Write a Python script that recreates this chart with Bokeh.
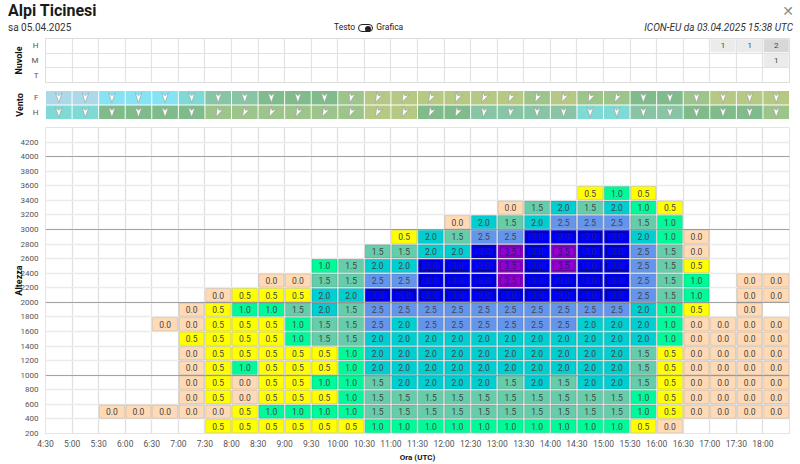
from bokeh.plotting import figure
from bokeh.models import Range1d, FixedTicker, ColumnDataSource, Grid, Div
from bokeh.layouts import column
from bokeh.embed import file_html
from bokeh.resources import INLINE
from bokeh.core.properties import value
import math

FONT = "Roboto"
N = None

# 30-minute forecast slots (UTC), left edge of each column
times = ["4:30", "5:00", "5:30", "6:00", "6:30", "7:00", "7:30", "8:00", "8:30", "9:00",
         "9:30", "10:00", "10:30", "11:00", "11:30", "12:00", "12:30", "13:00", "13:30",
         "14:00", "14:30", "15:00", "15:30", "16:00", "16:30", "17:00", "17:30", "18:00"]

alt_ticks = [200, 400, 600, 800, 1000, 1200, 1400, 1600, 1800, 2000, 2200,
             2400, 2600, 2800, 3000, 3200, 3400, 3600, 3800, 4000, 4200]

# thermal climb (m/s) per 200 m layer, named by the layer's lower bound
climb_0200 = [N, N, N, N, N, N, 0.5, 0.5, 0.5, 0.5, 0.5, 0.5, 1.0, 1.0, 1.0, 1.0, 1.0, 1.0, 1.0, 1.0, 1.0, 1.0, 0.5, 0.0, N, N, N, N]
climb_0400 = [N, N, 0.0, 0.0, 0.0, 0.0, 0.0, 0.5, 1.0, 1.0, 1.0, 1.0, 1.5, 1.5, 1.5, 1.5, 1.5, 1.5, 1.5, 1.5, 1.5, 1.5, 1.0, 0.5, 0.0, 0.0, 0.0, 0.0]
climb_0600 = [N, N, N, N, N, 0.0, 0.5, 0.0, 0.5, 0.5, 0.5, 1.0, 1.5, 1.5, 1.5, 1.5, 1.5, 1.5, 1.5, 1.5, 1.5, 1.5, 1.0, 0.5, 0.0, 0.0, 0.0, 0.0]
climb_0800 = [N, N, N, N, N, 0.0, 0.5, 0.0, 0.5, 0.5, 1.0, 1.0, 1.5, 2.0, 2.0, 2.0, 2.0, 1.5, 2.0, 1.5, 2.0, 2.0, 1.5, 0.5, 0.0, 0.0, 0.0, 0.0]
climb_1000 = [N, N, N, N, N, 0.0, 0.5, 1.0, 0.5, 0.5, 0.5, 1.0, 2.0, 2.0, 2.0, 2.0, 2.0, 2.0, 2.0, 2.0, 2.0, 2.0, 1.5, 0.5, 0.0, 0.0, 0.0, 0.0]
climb_1200 = [N, N, N, N, N, 0.0, 0.5, 0.5, 0.5, 0.5, 0.5, 1.0, 2.0, 2.0, 2.0, 2.0, 2.0, 2.0, 2.0, 2.0, 2.0, 2.0, 1.5, 0.5, 0.0, 0.0, 0.0, 0.0]
climb_1400 = [N, N, N, N, N, 0.5, 0.5, 0.5, 0.5, 1.0, 1.5, 1.5, 2.0, 2.0, 2.0, 2.0, 2.0, 2.0, 2.0, 2.0, 2.0, 2.0, 2.0, 1.0, 0.0, 0.0, 0.0, 0.0]
climb_1600 = [N, N, N, N, 0.0, 0.0, 0.5, 0.5, 0.5, 1.0, 1.5, 1.5, 2.5, 2.0, 2.5, 2.5, 2.5, 2.5, 2.5, 2.5, 2.0, 2.0, 2.0, 1.0, 0.0, 0.0, 0.0, 0.0]
climb_1800 = [N, N, N, N, N, 0.0, 0.5, 1.0, 1.0, 1.5, 2.0, 1.5, 2.5, 2.5, 2.5, 2.5, 2.5, 2.5, 2.5, 2.5, 2.5, 2.5, 2.0, 1.0, 0.5, N, 0.0, N]
climb_2000 = [N, N, N, N, N, N, 0.0, 0.5, 0.5, 0.5, 2.0, 2.0, 3.0, 3.0, 3.0, 3.0, 3.0, 3.0, 3.0, 3.0, 3.0, 3.0, 2.5, 1.5, 1.0, N, 0.0, 0.0]
climb_2200 = [N, N, N, N, N, N, N, N, 0.0, 0.0, 1.5, 1.5, 2.5, 2.5, 3.0, 3.0, 3.0, 3.5, 3.0, 3.0, 3.0, 3.0, 2.5, 1.5, 1.0, N, 0.0, 0.0]
climb_2400 = [N, N, N, N, N, N, N, N, N, N, 1.0, 1.5, 2.0, 2.0, 3.0, 3.0, 3.0, 3.5, 3.0, 3.5, 3.0, 3.0, 2.5, 1.5, 0.5, N, N, N]
climb_2600 = [N, N, N, N, N, N, N, N, N, N, N, N, 1.5, 1.5, 2.0, 2.0, 3.0, 3.5, 3.0, 3.5, 3.0, 3.0, 2.5, 1.5, 0.0, N, N, N]
climb_2800 = [N, N, N, N, N, N, N, N, N, N, N, N, N, 0.5, 2.0, 1.5, 2.5, 2.5, 3.0, 3.0, 3.0, 3.0, 2.0, 1.0, 0.0, N, N, N]
climb_3000 = [N, N, N, N, N, N, N, N, N, N, N, N, N, N, N, 0.0, 2.0, 1.5, 2.0, 2.5, 2.5, 2.5, 1.5, 1.0, N, N, N, N]
climb_3200 = [N, N, N, N, N, N, N, N, N, N, N, N, N, N, N, N, N, 0.0, 1.5, 2.0, 1.5, 2.0, 1.0, 0.5, N, N, N, N]
climb_3400 = [N, N, N, N, N, N, N, N, N, N, N, N, N, N, N, N, N, N, N, N, 0.5, 1.0, 0.5, N, N, N, N, N]

layers = [(200, climb_0200), (400, climb_0400), (600, climb_0600), (800, climb_0800),
          (1000, climb_1000), (1200, climb_1200), (1400, climb_1400), (1600, climb_1600),
          (1800, climb_1800), (2000, climb_2000), (2200, climb_2200), (2400, climb_2400),
          (2600, climb_2600), (2800, climb_2800), (3000, climb_3000), (3200, climb_3200),
          (3400, climb_3400)]

# cloud cover (octas) for high / mid / low levels
cloud_high = [N, N, N, N, N, N, N, N, N, N, N, N, N, N, N, N, N, N, N, N, N, N, N, N, N, 1, 1, 2]
cloud_mid = [N, N, N, N, N, N, N, N, N, N, N, N, N, N, N, N, N, N, N, N, N, N, N, N, N, N, N, 1]
cloud_low = [N, N, N, N, N, N, N, N, N, N, N, N, N, N, N, N, N, N, N, N, N, N, N, N, N, N, N, N]

# wind strength class and direction (deg, from) in the free atmosphere (F) and at height (H)
wind_f_class = [0, 0, 1, 1, 1, 2, 3, 3, 4, 4, 4, 5, 6, 6, 6, 6, 6, 6, 5, 6, 5, 5, 4, 4, 5, 6, 6, 6]
wind_h_class = [2, 2, 4, 4, 4, 4, 5, 5, 5, 5, 5, 5, 6, 6, 4, 4, 3, 3, 3, 3, 2, 2, 3, 3, 4, 4, 4, 5]
wind_f_dir = [0, 0, 0, 0, 0, 0, 0, 0, 0, 0, 0, 12, 25, 25, 25, 25, 25, 25, 25, 25, 25, 25, 0, 0, 0, 0, 0, 0]
wind_h_dir = [0, 0, 0, 0, 0, 0, 25, 25, 25, 25, 25, 25, 25, 25, 25, 25, 8, 8, 0, 0, 0, 0, 0, 0, 0, 0, 0, 0]

climb_colors = {0.0: "#FFDAB4", 0.5: "#FFFF00", 1.0: "#00FA9A", 1.5: "#66CDAA",
                2.0: "#00CED1", 2.5: "#6495ED", 3.0: "#0000FF", 3.5: "#9400D3"}
wind_palette = ["#abd9e9", "#85e3f3", "#7fd9d5", "#88c5a5", "#80bb8c", "#9dc48b", "#b5c985"]

PLOT_W = 800
BORDER_L, BORDER_R = 45, 11


def to_hours(t):
    h, m = t.split(":")
    return int(h) + int(m) / 60.0


slot = [to_hours(t) for t in times]
step = slot[1] - slot[0]
x_start, x_end = slot[0], slot[-1] + step
centers = [s + step / 2 for s in slot]


def base_fig(height, y_range, bottom):
    p = figure(width=PLOT_W, height=height, x_range=Range1d(x_start, x_end), y_range=y_range,
               output_backend="svg", toolbar_location=None, title=None,
               min_border_left=BORDER_L, min_border_right=BORDER_R, min_border_top=0,
               min_border_bottom=bottom, background_fill_color="white",
               border_fill_color="white")
    p.outline_line_color = None
    return p


def style_yaxis(p, ticks, labels, name, label_standoff, axis_standoff):
    ax = p.yaxis[0]
    ax.ticker = FixedTicker(ticks=ticks)
    ax.major_label_overrides = labels
    ax.axis_line_color = None
    ax.major_tick_line_color = None
    ax.minor_tick_line_color = None
    ax.major_tick_out = 0
    ax.major_tick_in = 0
    ax.major_label_text_font = FONT
    ax.major_label_text_font_size = "8px"
    ax.major_label_text_color = "#555555"
    ax.major_label_standoff = label_standoff
    ax.axis_label = name
    ax.axis_label_text_font = FONT
    ax.axis_label_text_font_style = "bold"
    ax.axis_label_text_font_size = "9px"
    ax.axis_label_text_color = "#111111"
    ax.axis_label_standoff = axis_standoff


# ---------------- header ----------------
header_html = """
<div style="position:relative;width:800px;height:38px;overflow:hidden;font-family:Roboto,sans-serif;color:#222;">
  <div style="position:absolute;left:8px;top:3px;font-size:16px;font-weight:bold;line-height:16px;color:#1a1a1a;">Alpi Ticinesi</div>
  <div style="position:absolute;left:8px;top:22px;font-size:10px;line-height:11px;color:#333;">sa 05.04.2025</div>
  <div style="position:absolute;left:334px;top:21px;font-size:8.5px;line-height:12px;color:#222;white-space:nowrap;">
    Testo
    <span style="display:inline-block;vertical-align:middle;width:15px;height:8px;border:1.4px solid #222;border-radius:6px;position:relative;margin:0 1px;">
      <span style="position:absolute;right:1px;top:1px;width:6px;height:6px;border-radius:3px;background:#222;"></span>
    </span>
    Grafica
  </div>
  <div style="position:absolute;right:7px;top:22px;font-size:10px;line-height:11px;font-style:italic;color:#333;white-space:nowrap;">ICON-EU da 03.04.2025 15:38 UTC</div>
  <div style="position:absolute;right:6px;top:4px;font-size:14px;line-height:14px;color:#8c8c8c;font-family:'DejaVu Sans';">&#x2715;</div>
</div>
"""
header = Div(text=header_html, width=800, height=38, margin=(0, 0, 0, 0))

# ---------------- clouds panel ----------------
pc = base_fig(52, Range1d(0, 3), 8)
pc.xaxis.visible = False
pc.outline_line_color = "#dddddd"
pc.xgrid.ticker = FixedTicker(ticks=slot + [x_end])
pc.xgrid.grid_line_color = "#e2e2e2"
pc.xgrid.grid_line_width = 1.2
pc.ygrid.ticker = FixedTicker(ticks=[0, 1, 2, 3])
pc.ygrid.grid_line_color = "#e2e2e2"
pc.ygrid.grid_line_width = 1.2
style_yaxis(pc, [0.5, 1.5, 2.5], {0.5: "T", 1.5: "M", 2.5: "H"}, "Nuvole", 7, 5)

cx, cy, ctext, cfill = [], [], [], []
for row_y, series in ((2.5, cloud_high), (1.5, cloud_mid), (0.5, cloud_low)):
    for c, v in zip(centers, series):
        if v is None:
            continue
        cx.append(c)
        cy.append(row_y)
        ctext.append(str(v))
        cfill.append("#d7d7d7" if v >= 2 else "#ebebeb")
csrc = ColumnDataSource(dict(x=cx, y=cy, t=ctext, f=cfill))
pc.rect(x="x", y="y", width=25, height=13, width_units="screen", height_units="screen",
        source=csrc, fill_color="f", line_color=None)
pc.text(x="x", y="y", text="t", source=csrc, text_align="center", text_baseline="middle",
        text_font=value(FONT), text_font_size="8px", text_color="#444444")

# ---------------- wind panel ----------------
WIND_H = 37
WIND_FRAME_H = WIND_H - 8
pw = base_fig(WIND_H, Range1d(0, 2), 8)
pw.xaxis.visible = False
pw.xgrid.visible = False
pw.ygrid.visible = False
style_yaxis(pw, [0.5, 1.5], {0.5: "H", 1.5: "F"}, "Vento", 7, 5)

# pixel -> data conversion factors for the arrow outlines
px_x = (x_end - x_start) / (PLOT_W - BORDER_L - BORDER_R)
px_y = 2.0 / WIND_FRAME_H

wx, wy, wfill, axs, ays = [], [], [], [], []
for row_y, cls, dirs in ((1.5, wind_f_class, wind_f_dir), (0.5, wind_h_class, wind_h_dir)):
    for c, k, d in zip(centers, cls, dirs):
        wx.append(c)
        wy.append(row_y)
        wfill.append(wind_palette[k])
        # arrow points downwind: bearing = from-direction + 180
        b = math.radians(d + 180)
        ux, uy = math.sin(b), math.cos(b)
        vx, vy = math.cos(b), -math.sin(b)
        shape = [(5 * ux, 5 * uy),
                 (-5 * ux + 3.3 * vx, -5 * uy + 3.3 * vy),
                 (-2 * ux, -2 * uy),
                 (-5 * ux - 3.3 * vx, -5 * uy - 3.3 * vy)]
        axs.append([c + sx * px_x for sx, sy in shape])
        ays.append([row_y + sy * px_y for sx, sy in shape])
wsrc = ColumnDataSource(dict(x=wx, y=wy, f=wfill))
pw.rect(x="x", y="y", width=25.6, height=13.6, width_units="screen", height_units="screen",
        source=wsrc, fill_color="f", line_color=None)
pw.patches(xs=axs, ys=ays, fill_color="white", line_color="#9a9a9a", line_width=0.6)

# ---------------- thermals panel ----------------
pm = base_fig(337, Range1d(200, 4400), 28)
pm.outline_line_color = "#e4e4e4"
pm.xgrid.ticker = FixedTicker(ticks=slot + [x_end])
pm.xgrid.grid_line_color = "#e0e0e0"
pm.xgrid.grid_line_width = 1.3
pm.ygrid.ticker = FixedTicker(ticks=alt_ticks + [4400])
pm.ygrid.grid_line_color = "#ebebeb"
pm.ygrid.grid_line_width = 1.5
pm.add_layout(Grid(dimension=1, ticker=FixedTicker(ticks=[1000, 2000, 3000, 4000]),
                   grid_line_color="#a3a3a3", grid_line_width=1.2))

style_yaxis(pm, alt_ticks, {a: str(a) for a in alt_ticks}, "Altezza", 7, -6)

xa = pm.xaxis[0]
xa.ticker = FixedTicker(ticks=slot)
xa.major_label_overrides = {s: t for s, t in zip(slot, times)}
xa.axis_line_color = None
xa.major_tick_line_color = None
xa.minor_tick_line_color = None
xa.major_tick_out = 0
xa.major_tick_in = 0
xa.major_label_text_font = FONT
xa.major_label_text_font_size = "8.5px"
xa.major_label_text_color = "#555555"
xa.major_label_standoff = 5
xa.axis_label = "Ora (UTC)"
xa.axis_label_text_font = FONT
xa.axis_label_text_font_style = "bold"
xa.axis_label_text_font_size = "8px"
xa.axis_label_text_color = "#111111"
xa.axis_label_standoff = 1

mx, my, mt, mf, mtc = [], [], [], [], []
for base, series in layers:
    for c, v in zip(centers, series):
        if v is None:
            continue
        mx.append(c)
        my.append(base + 100)
        mt.append("%.1f" % v)
        mf.append(climb_colors[v])
        mtc.append("#1c1c78" if v >= 3.0 else "#444444")
msrc = ColumnDataSource(dict(x=mx, y=my, t=mt, f=mf, tc=mtc))
pm.rect(x="x", y="y", width=25, height=13.2, width_units="screen", height_units="screen",
        source=msrc, fill_color="f", line_color="black", line_alpha=0.12, line_width=1)

# strongest climbs get an inner frame
strong = [i for i, t in enumerate(mt) if float(t) >= 3.0]
ssrc = ColumnDataSource(dict(x=[mx[i] for i in strong], y=[my[i] for i in strong],
                             lc=["#00008a" if float(mt[i]) < 3.5 else "#5a0088" for i in strong]))
pm.rect(x="x", y="y", width=20.5, height=9, width_units="screen", height_units="screen",
        source=ssrc, fill_color=None, line_color="lc", line_alpha=0.85, line_width=1)

pm.text(x="x", y="y", text="t", source=msrc, text_align="center", text_baseline="middle",
        text_font=value(FONT), text_font_size="8.5px", text_color="tc")

layout = column(header, pc, pw, pm, spacing=0)
open("out.html", "w").write(file_html(layout, INLINE))
